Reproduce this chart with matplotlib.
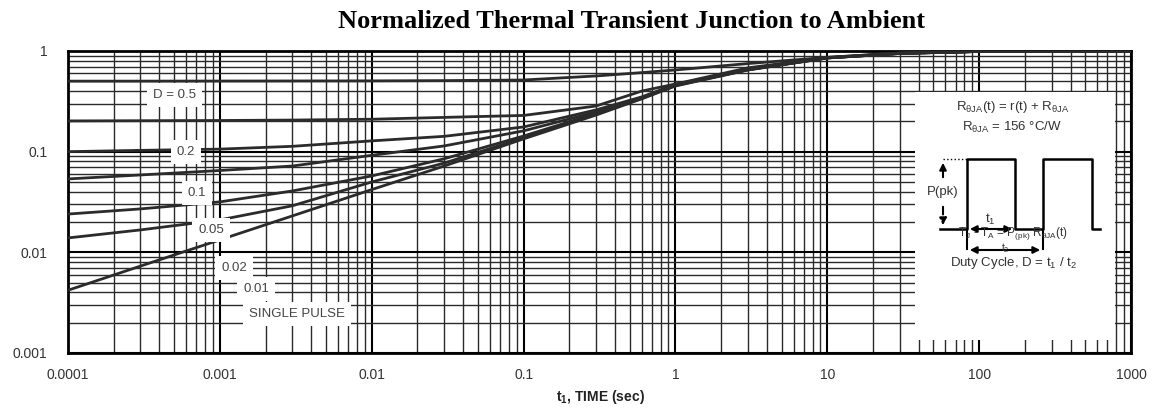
import matplotlib
matplotlib.use('Agg')
import matplotlib.pyplot as plt
from matplotlib.patches import Rectangle
from matplotlib.ticker import LogLocator, NullFormatter, FixedLocator, FixedFormatter

plt.rcParams['font.family'] = ['Liberation Sans', 'DejaVu Sans']
plt.rcParams['mathtext.default'] = 'regular'

# pulse time t1 (sec) and normalized transient r(t)
t = [1e-4, 3e-4, 1e-3, 3e-3, 1e-2, 3e-2, 0.1, 0.3, 0.6, 1, 3, 10, 30, 100, 1000]
r_d50 = [0.502, 0.502, 0.503, 0.504, 0.505, 0.508, 0.515, 0.565, 0.61, 0.648, 0.75, 0.865, 0.955, 0.99, 1.0]
r_d20 = [0.202, 0.203, 0.204, 0.206, 0.21, 0.219, 0.229, 0.284, 0.40, 0.47, 0.68, 0.862, 0.955, 0.99, 1.0]
r_d10 = [0.1, 0.103, 0.106, 0.113, 0.128, 0.142, 0.176, 0.26, 0.35, 0.465, 0.66, 0.857, 0.948, 0.99, 1.0]
r_d05 = [0.0536, 0.0587, 0.065, 0.072, 0.092, 0.114, 0.161, 0.248, 0.345, 0.46, 0.655, 0.855, 0.947, 0.99, 1.0]
r_d02 = [0.024, 0.027, 0.0317, 0.0407, 0.0574, 0.085, 0.143, 0.24, 0.34, 0.456, 0.652, 0.854, 0.946, 0.99, 1.0]
r_d01 = [0.0139, 0.0167, 0.021, 0.029, 0.05, 0.077, 0.137, 0.237, 0.338, 0.454, 0.65, 0.853, 0.945, 0.99, 1.0]
r_single = [0.0042, 0.0073, 0.0133, 0.023, 0.042, 0.072, 0.134, 0.231, 0.335, 0.449, 0.647, 0.852, 0.944, 0.99, 1.0]
curves = [r_d50, r_d20, r_d10, r_d05, r_d02, r_d01, r_single]

# curve labels and where they sit (t, r)
label_text = ['D = 0.5', '0.2', '0.1', '0.05', '0.02', '0.01', 'SINGLE PULSE']
label_t = [5.06e-4, 5.98e-4, 7.06e-4, 8.73e-4, 1.24e-3, 1.73e-3, 3.22e-3]
label_r = [0.366, 0.0993, 0.0389, 0.0167, 0.0070, 0.00433, 0.00245]

x_ticks = [1e-4, 1e-3, 1e-2, 1e-1, 1, 10, 100, 1000]
x_labels = ['0.0001', '0.001', '0.01', '0.1', '1', '10', '100', '1000']
y_ticks = [0.001, 0.01, 0.1, 1]
y_labels = ['0.001', '0.01', '0.1', '1']

fig = plt.figure(figsize=(11.55, 4.08), dpi=100)
ax = fig.add_axes([68 / 1155, 1 - 353 / 408, 1063 / 1155, 302 / 408])
ax.set_xscale('log')
ax.set_yscale('log')
ax.set_xlim(1e-4, 1000)
ax.set_ylim(0.001, 1)

ax.xaxis.set_major_locator(FixedLocator(x_ticks))
ax.xaxis.set_major_formatter(FixedFormatter(x_labels))
ax.yaxis.set_major_locator(FixedLocator(y_ticks))
ax.yaxis.set_major_formatter(FixedFormatter(y_labels))
ax.xaxis.set_minor_locator(LogLocator(base=10, subs=range(2, 10), numticks=30))
ax.yaxis.set_minor_locator(LogLocator(base=10, subs=range(2, 10), numticks=30))
ax.xaxis.set_minor_formatter(NullFormatter())
ax.yaxis.set_minor_formatter(NullFormatter())
ax.tick_params(which='both', length=0, labelsize=10, labelcolor='#333333')
ax.tick_params(axis='x', pad=11)
ax.tick_params(axis='y', pad=15)

ax.set_axisbelow(True)
ax.grid(which='major', color='black', lw=1.5)
ax.grid(which='minor', color='#2a2a2a', lw=1.0)
for s in ax.spines.values():
    s.set_linewidth(2)

for r in curves:
    ax.plot(t, r, color='#2b2b2b', lw=2.0, zorder=3)

for txt, lt, lr in zip(label_text, label_t, label_r):
    ax.text(lt, lr, txt, fontsize=9.5, color='#444444', ha='center', va='center', zorder=5,
            bbox=dict(boxstyle='square,pad=0.45', fc='white', ec='none'))

# white panel that holds the formula and pulse sketch
ax.add_patch(Rectangle((38, 0.00135), 790 - 38, 0.395 - 0.00135, fc='white', ec='none', zorder=1))


def ap(px, py):
    return ((px - 68) / 1063, (353 - py) / 302)


tr = ax.transAxes
ax.text(*ap(1013, 107), r'R$_{\theta JA}$(t) = r(t) + R$_{\theta JA}$', transform=tr,
        ha='center', va='center', fontsize=9.5, color='#333333', zorder=6)
ax.text(*ap(1012, 127), r'R$_{\theta JA}$ = 156 °C/W', transform=tr,
        ha='center', va='center', fontsize=9.5, color='#333333', zorder=6)

# pulse train
px_pts = [940, 967, 967, 1015, 1015, 1043, 1043, 1092, 1092, 1100]
py_pts = [229, 229, 159, 159, 229, 229, 159, 159, 229, 229]
ax.plot([ap(a, b)[0] for a, b in zip(px_pts, py_pts)], [ap(a, b)[1] for a, b in zip(px_pts, py_pts)],
        transform=tr, color='black', lw=1.8, zorder=6, clip_on=False)
ax.plot([ap(943, 159)[0], ap(967, 159)[0]], [ap(943, 159)[1], ap(967, 159)[1]], transform=tr,
        color='black', lw=1, ls=':', zorder=6)
for xe in (967, 1043):
    ax.plot([ap(xe, 229)[0], ap(xe, 249)[0]], [ap(xe, 229)[1], ap(xe, 249)[1]], transform=tr,
            color='black', lw=1.5, zorder=6)

arrow = dict(arrowstyle='-|>', color='black', lw=1.5, mutation_scale=10)
ax.annotate('', xy=ap(943, 160), xytext=ap(943, 180), xycoords=tr, textcoords=tr, arrowprops=arrow, zorder=6)
ax.annotate('', xy=ap(943, 228), xytext=ap(943, 204), xycoords=tr, textcoords=tr,
            arrowprops=dict(arrowstyle='-|>', color='black', lw=1.5, ls='--', mutation_scale=10), zorder=6)
ax.text(*ap(943, 192), 'P(pk)', transform=tr, ha='center', va='center', fontsize=9.5, color='#333333', zorder=6)

dbl = dict(arrowstyle='<|-|>', color='black', lw=1.5, mutation_scale=10)
ax.annotate('', xy=ap(967, 229), xytext=ap(1015, 229), xycoords=tr, textcoords=tr, arrowprops=dbl, zorder=6)
ax.annotate('', xy=ap(967, 250), xytext=ap(1043, 250), xycoords=tr, textcoords=tr, arrowprops=dbl, zorder=6)
ax.text(*ap(990, 219), r't$_1$', transform=tr, ha='center', va='center', fontsize=9.5, color='#333333', zorder=7)
ax.text(*ap(1005, 248), r't$_2$', transform=tr, ha='center', va='center', fontsize=7.5, color='#333333', zorder=7)

ax.text(*ap(1013, 233), r'T$_J$ - T$_A$ = P$_{(pk)}$ R$_{\theta JA}$(t)', transform=tr,
        ha='center', va='center', fontsize=8.5, color='#333333', zorder=6)
ax.text(*ap(1013, 263), r'Duty Cycle, D = t$_1$ / t$_2$', transform=tr,
        ha='center', va='center', fontsize=9.5, color='#333333', zorder=6)

fig.text(600 / 1155, 1 - 397 / 408, r't$_1$, TIME (sec)', fontsize=10, fontweight='bold',
         color='#222222', ha='center', va='center')
fig.text(632 / 1155, 1 - 22 / 408, 'Normalized Thermal Transient Junction to Ambient',
         family=['Liberation Serif', 'DejaVu Serif'], fontweight='bold', fontsize=19,
         ha='center', va='center', color='black')

fig.savefig('out.png', dpi=100)
